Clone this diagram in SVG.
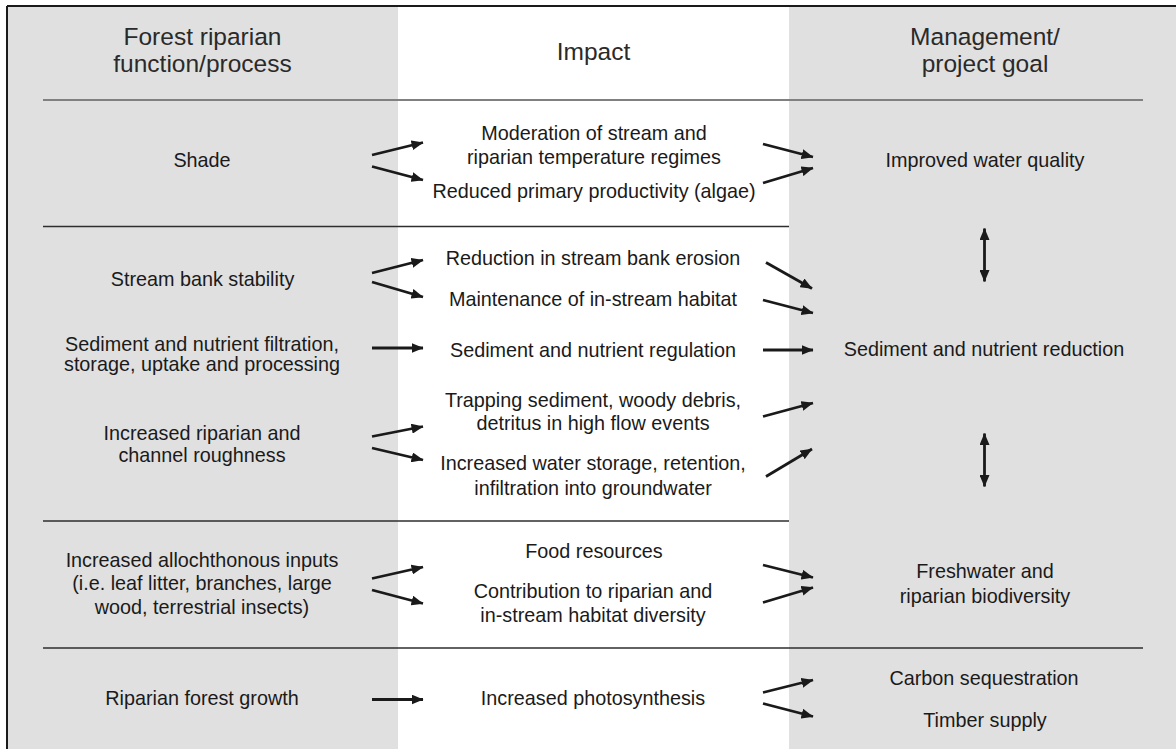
<svg xmlns="http://www.w3.org/2000/svg" width="1176" height="749" viewBox="0 0 1176 749">
<defs>
<style>
text{font-family:"Liberation Sans",Arial,sans-serif;fill:#1a1a1a;text-anchor:middle}
.h{font-size:24.5px;fill:#2a2a2a}
.b{font-size:19.8px}
.arr{stroke:#1a1a1a;stroke-width:2.8;fill:none;marker-end:url(#ah)}
.dbl{stroke:#1a1a1a;stroke-width:2.8;fill:none;marker-end:url(#ah);marker-start:url(#ah)}
.sep{stroke:#2e2e2e;stroke-width:1.3}
</style>
<marker id="ah" viewBox="0 0 12 10" refX="11.5" refY="5" markerWidth="12" markerHeight="10" markerUnits="userSpaceOnUse" orient="auto-start-reverse">
<path d="M0,0 L12,5 L0,10 z" fill="#1a1a1a"/>
</marker>
</defs>
<g id="background">
<rect x="0" y="0" width="1176" height="749" fill="#ffffff"/>
<rect x="7" y="6" width="391" height="743" fill="#e0e0e0"/>
<rect x="789" y="6" width="387" height="743" fill="#e0e0e0"/>
<line x1="7" y1="6" x2="1176" y2="6" stroke="#1a1a1a" stroke-width="2"/>
<line x1="7" y1="6" x2="7" y2="749" stroke="#1a1a1a" stroke-width="2"/>
<line x1="43" y1="100" x2="1143" y2="100" stroke="#808080" stroke-width="2"/>
<line class="sep" x1="43" y1="226.5" x2="789" y2="226.5"/>
<line class="sep" x1="43" y1="521" x2="789" y2="521"/>
<line class="sep" x1="43" y1="648" x2="1143" y2="648"/>
</g>
<g id="headers">
<text class="h" x="202.5" y="45">Forest riparian</text>
<text class="h" x="202.5" y="71.5">function/process</text>
<text class="h" x="593.5" y="59.5">Impact</text>
<text class="h" x="985" y="45">Management/</text>
<text class="h" x="985" y="72">project goal</text>
</g>
<g id="n-shade"><text class="b" x="202" y="167">Shade</text></g>
<g id="n-bank"><text class="b" x="202.5" y="286">Stream bank stability</text></g>
<g id="n-filtration"><text class="b" x="202" y="351">Sediment and nutrient filtration,</text><text class="b" x="202" y="371">storage, uptake and processing</text></g>
<g id="n-roughness"><text class="b" x="202" y="440">Increased riparian and</text><text class="b" x="202" y="462">channel roughness</text></g>
<g id="n-allochthonous"><text class="b" x="202" y="566.5">Increased allochthonous inputs</text><text class="b" x="202" y="590">(i.e. leaf litter, branches, large</text><text class="b" x="202" y="614">wood, terrestrial insects)</text></g>
<g id="n-growth"><text class="b" x="202" y="705">Riparian forest growth</text></g>
<g id="n-moderation"><text class="b" x="594" y="140">Moderation of stream and</text><text class="b" x="594" y="163.5">riparian temperature regimes</text></g>
<g id="n-primary"><text class="b" x="594" y="198">Reduced primary productivity (algae)</text></g>
<g id="n-erosion"><text class="b" x="593" y="265">Reduction in stream bank erosion</text></g>
<g id="n-instream"><text class="b" x="593" y="306">Maintenance of in-stream habitat</text></g>
<g id="n-regulation"><text class="b" x="593" y="356.5">Sediment and nutrient regulation</text></g>
<g id="n-trapping"><text class="b" x="593" y="406.5">Trapping sediment, woody debris,</text><text class="b" x="593" y="430">detritus in high flow events</text></g>
<g id="n-storage"><text class="b" x="593" y="470">Increased water storage, retention,</text><text class="b" x="593" y="495">infiltration into groundwater</text></g>
<g id="n-food"><text class="b" x="594" y="558">Food resources</text></g>
<g id="n-contribution"><text class="b" x="593" y="598">Contribution to riparian and</text><text class="b" x="593" y="621.5">in-stream habitat diversity</text></g>
<g id="n-photosynthesis"><text class="b" x="593" y="705">Increased photosynthesis</text></g>
<g id="n-water"><text class="b" x="985" y="166.5">Improved water quality</text></g>
<g id="n-sediment"><text class="b" x="984" y="356">Sediment and nutrient reduction</text></g>
<g id="n-biodiversity"><text class="b" x="985" y="578">Freshwater and</text><text class="b" x="985" y="602.5">riparian biodiversity</text></g>
<g id="n-carbon"><text class="b" x="984" y="685">Carbon sequestration</text></g>
<g id="n-timber"><text class="b" x="985" y="726.5">Timber supply</text></g>
<g id="connectors">
<line class="arr" x1="372" y1="155" x2="423" y2="142.5"/>
<line class="arr" x1="372" y1="166.5" x2="423" y2="180"/>
<line class="arr" x1="763" y1="144" x2="813" y2="157"/>
<line class="arr" x1="763" y1="183" x2="813" y2="168"/>
<line class="arr" x1="372" y1="273" x2="423" y2="260"/>
<line class="arr" x1="372" y1="282" x2="423" y2="297"/>
<line class="arr" x1="372" y1="348" x2="423" y2="348"/>
<line class="arr" x1="372" y1="436.5" x2="423" y2="426.5"/>
<line class="arr" x1="372" y1="448" x2="423" y2="460"/>
<line class="arr" x1="766" y1="262.5" x2="812" y2="288.5"/>
<line class="arr" x1="763" y1="300" x2="813" y2="313"/>
<line class="arr" x1="763" y1="350" x2="813" y2="350"/>
<line class="arr" x1="763" y1="416.5" x2="813" y2="403"/>
<line class="arr" x1="766" y1="476.5" x2="812" y2="449"/>
<line class="dbl" x1="984.5" y1="228.5" x2="984.5" y2="281.5"/>
<line class="dbl" x1="984.5" y1="433.5" x2="984.5" y2="486.5"/>
<line class="arr" x1="372" y1="578.5" x2="423" y2="567"/>
<line class="arr" x1="372" y1="590" x2="423" y2="603.5"/>
<line class="arr" x1="763" y1="565" x2="813" y2="577.5"/>
<line class="arr" x1="763" y1="602.5" x2="813" y2="587.5"/>
<line class="arr" x1="372" y1="699.5" x2="423" y2="699.5"/>
<line class="arr" x1="763" y1="692.5" x2="813" y2="680"/>
<line class="arr" x1="763" y1="703.5" x2="813" y2="716.5"/>
</g>
</svg>
